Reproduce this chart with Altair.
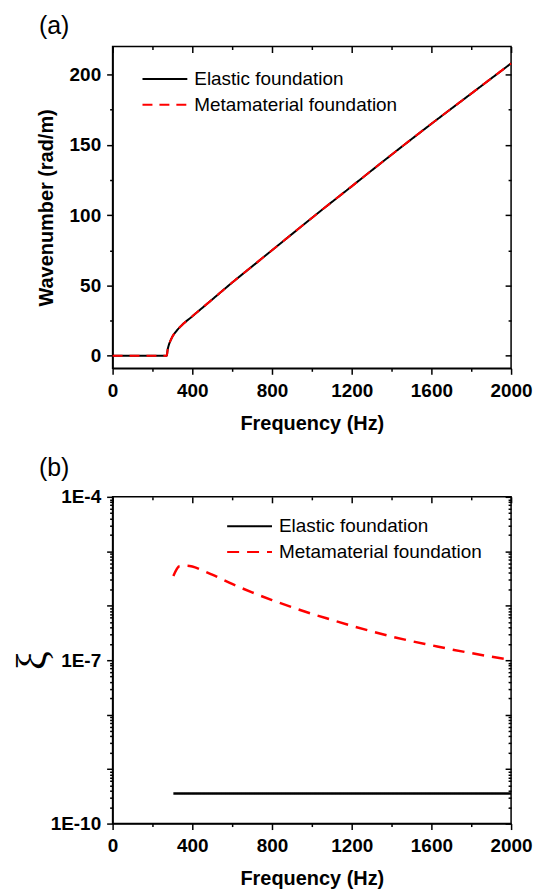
import altair as alt
import pandas as pd

# ---------------- data ----------------
series_names = ["Elastic foundation", "Metamaterial foundation"]

# panel (a): wavenumber vs frequency (both curves coincide)
freq_a = [0, 100, 200, 272, 276, 282, 290, 300, 320, 350, 400, 450, 500, 600,
          700, 800, 900, 1000, 1200, 1400, 1600, 1800, 2000]
wavenumber_a = [0, 0, 0, 0, 4, 7.5, 10.5, 13.5, 17.5, 22, 28, 34, 40, 52,
                63.5, 75, 86.5, 98, 120.5, 143, 165, 186.5, 208]

# panel (b): xi vs frequency
freq_b_elastic = [305, 2000]
xi_b_elastic = [3.55e-10, 3.55e-10]
freq_b_meta = [305, 335, 370, 400, 450, 500, 600, 700, 800, 900, 1000, 1100,
               1200, 1300, 1400, 1500, 1600, 1700, 1800, 1900, 2000]
xi_b_meta = [3.5e-6, 5.3e-6, 5.45e-6, 5.25e-6, 4.47e-6, 3.72e-6, 2.51e-6,
             1.76e-6, 1.27e-6, 9.4e-7, 7.1e-7, 5.5e-7, 4.27e-7, 3.39e-7,
             2.72e-7, 2.24e-7, 1.88e-7, 1.58e-7, 1.35e-7, 1.16e-7, 1.01e-7]

# tick values
x_major = [0, 400, 800, 1200, 1600, 2000]
x_minor = [200, 600, 1000, 1400, 1800]
ya_major = [0, 50, 100, 150, 200]
ya_minor = [25, 75, 125, 175]
yb_major = [1e-10, 1e-9, 1e-8, 1e-7, 1e-6, 1e-5, 1e-4]
yb_minor = [m * d for d in [1e-10, 1e-9, 1e-8, 1e-7, 1e-6, 1e-5] for m in range(2, 10)]

FONT = "Liberation Sans"
PLOT_W = 400

df_a = pd.DataFrame({
    "freq": freq_a + freq_a,
    "val": wavenumber_a + wavenumber_a,
    "series": [series_names[0]] * len(freq_a) + [series_names[1]] * len(freq_a),
})
df_b = pd.DataFrame({
    "freq": freq_b_elastic + freq_b_meta,
    "val": xi_b_elastic + xi_b_meta,
    "series": [series_names[0]] * len(freq_b_elastic) + [series_names[1]] * len(freq_b_meta),
})

x_scale = alt.Scale(domain=[0, 2000], nice=False, zero=False)
ya_scale = alt.Scale(domain=[-9, 220], nice=False, zero=False)
yb_scale = alt.Scale(type="log", domain=[1e-10, 1e-4], nice=False)


def legend(lx, ly):
    return alt.Legend(title=None, orient="none", legendX=lx, legendY=ly,
                      symbolType="M-3,0H3", symbolSize=225, symbolStrokeWidth=2,
                      symbolOffset=15, labelOffset=20, padding=0, rowPadding=6,
                      labelFont=FONT, labelFontSize=19, labelColor="black",
                      labelLimit=400)


def enc_color(lx, ly):
    return alt.Color("series:N", scale=alt.Scale(domain=series_names, range=["black", "red"]),
                     legend=legend(lx, ly))


def enc_dash(dash, lx, ly):
    return alt.StrokeDash("series:N", scale=alt.Scale(domain=series_names, range=[[1, 0], dash]),
                          legend=legend(lx, ly))


def inner_layer(df, ys, yvals, size):
    return alt.Chart(df).mark_point(opacity=0).encode(
        x=alt.X("freq:Q", scale=x_scale,
                axis=alt.Axis(orient="top", values=x_major if size == 6 else x_minor,
                              labels=False, domain=False, tickSize=size, offset=-size,
                              title=None, grid=False)),
        y=alt.Y("val:Q", scale=ys,
                axis=alt.Axis(orient="right", values=yvals,
                              labels=False, domain=False, tickSize=size, offset=-size,
                              title=None, grid=False)),
    )


x_axis = alt.Axis(orient="bottom", values=x_major + x_minor, title="Frequency (Hz)",
                  format="d", labelExpr="datum.value % 400 === 0 ? datum.label : ''",
                  tickSize={"condition": {"test": "datum.value % 400 === 0", "value": 6}, "value": 3},
                  labelPadding=7, titlePadding=13, labelFlush=False, labelOverlap=False,
                  grid=False)

# ---------------- panel (a) ----------------
ya_axis = alt.Axis(orient="left", values=ya_major + ya_minor, title="Wavenumber (rad/m)",
                   format="d", labelExpr="datum.value % 50 === 0 ? datum.label : ''",
                   tickSize={"condition": {"test": "datum.value % 50 === 0", "value": 6}, "value": 3},
                   labelPadding=6, titlePadding=13, labelFlush=False, labelOverlap=False,
                   grid=False)

lines_a = alt.Chart(df_a).mark_line(strokeWidth=2, interpolate="monotone").encode(
    x=alt.X("freq:Q", scale=x_scale, axis=x_axis),
    y=alt.Y("val:Q", scale=ya_scale, axis=ya_axis),
    color=enc_color(28, 23),
    strokeDash=enc_dash([10, 7], 28, 23),
)

panel_a = alt.layer(
    lines_a,
    inner_layer(df_a, ya_scale, ya_major, 6),
    inner_layer(df_a, ya_scale, ya_minor, 3),
).resolve_axis(x="independent", y="independent").properties(
    width=PLOT_W, height=323,
    title=alt.TitleParams("(a)", anchor="start", frame="group", dx=-74, offset=7,
                          fontSize=25, fontWeight="normal", font=FONT, color="black"),
)

# ---------------- panel (b) ----------------
decade_test = "abs(log(datum.value)/LN10 - round(log(datum.value)/LN10)) < 1e-6"
yb_axis = alt.Axis(orient="left", values=yb_major + yb_minor, title="ξ",
                   labelExpr="(" + decade_test + " && round(log(datum.value)/LN10) % 3 == -1) ? '1E' + round(log(datum.value)/LN10) : ''",
                   tickSize={"condition": {"test": decade_test, "value": 6}, "value": 3},
                   labelPadding=6, titlePadding=-4, labelFlush=False, labelOverlap=False,
                   titleFont="Liberation Serif", titleFontWeight="normal", titleFontSize=42,
                   grid=False)

lines_b = alt.Chart(df_b).mark_line(strokeWidth=2.5, interpolate="monotone").encode(
    x=alt.X("freq:Q", scale=x_scale, axis=x_axis),
    y=alt.Y("val:Q", scale=yb_scale, axis=yb_axis),
    color=enc_color(113, 20),
    strokeDash=enc_dash([12, 8], 113, 20),
)

panel_b = alt.layer(
    lines_b,
    inner_layer(df_b, yb_scale, yb_major, 6),
    inner_layer(df_b, yb_scale, yb_minor, 3),
).resolve_axis(x="independent", y="independent").properties(
    width=PLOT_W, height=328,
    title=alt.TitleParams("(b)", anchor="start", frame="group", dx=-74, offset=7,
                          fontSize=25, fontWeight="normal", font=FONT, color="black"),
)

chart = alt.vconcat(panel_a, panel_b, spacing=21).resolve_scale(
    x="independent", y="independent", color="independent", strokeDash="independent"
).resolve_legend(color="independent", strokeDash="independent").properties(
    padding={"left": 2, "top": 3, "right": 0, "bottom": 0},
    background="white",
).configure_view(stroke="black", strokeWidth=1.5).configure_axis(
    labelFont=FONT, labelFontSize=19, labelFontWeight="bold", labelColor="black",
    titleFont=FONT, titleFontSize=20, titleFontWeight="bold", titleColor="black",
    domainColor="black", domainWidth=1.5, tickColor="black", tickWidth=1.5, grid=False,
)

chart.save("out.html", embed_options={"renderer": "svg", "actions": False})
